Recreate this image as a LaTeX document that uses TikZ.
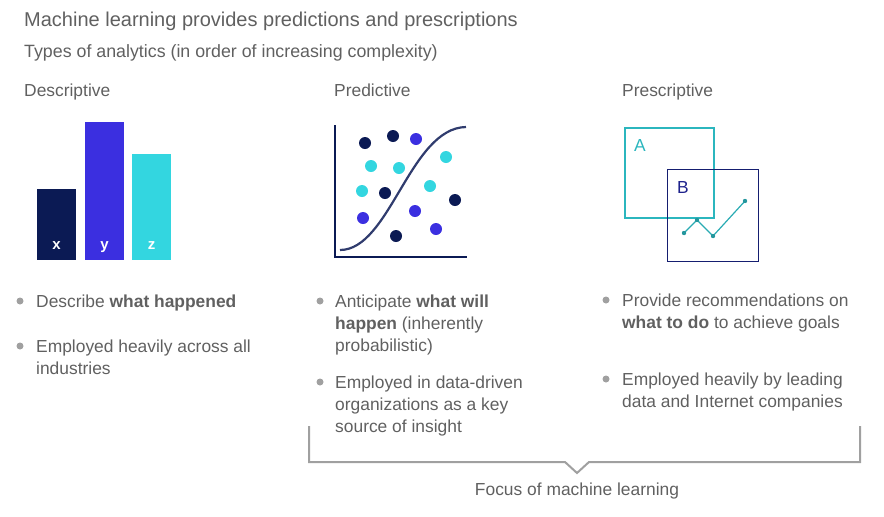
\documentclass[tikz,border=0pt]{standalone}
\usepackage{fontspec}
\setmainfont{Liberation Sans}
\definecolor{navy}{HTML}{0B1A54}
\definecolor{purp}{HTML}{3B2FE0}
\definecolor{cyn}{HTML}{33D6E0}
\definecolor{txt}{HTML}{606060}
\definecolor{brk}{HTML}{A0A0A0}
\begin{document}
\begin{tikzpicture}[x=1pt,y=-1pt,
  t/.style={anchor=base west,inner sep=0,text=txt,font=\fontsize{17.4}{17.4}\selectfont},
  bl/.style={fill=brk,draw=none,circle,inner sep=0,minimum size=7pt},
  dn/.style={circle,fill=navy,inner sep=0,minimum size=12pt},
  dp/.style={circle,fill=purp,inner sep=0,minimum size=12pt},
  dc/.style={circle,fill=cyn,inner sep=0,minimum size=12pt},
  bar/.style={white,font=\bfseries\fontsize{15}{15}\selectfont,anchor=base}]
\useasboundingbox (0,0) rectangle (884,517);
\node[t,font=\fontsize{20}{20}\selectfont] (title) at (24,26) {Machine learning provides predictions and prescriptions};
\node[t,font=\fontsize{17.8}{17.8}\selectfont] (sub) at (24,57) {Types of analytics (in order of increasing complexity)};
\node[t] (h1) at (24,96) {Descriptive};
\node[t] (h2) at (334,96) {Predictive};
\node[t] (h3) at (622,96) {Prescriptive};
% bars
\fill[navy] (37,189) rectangle (76,260);
\fill[purp] (85,122) rectangle (124,260);
\fill[cyn] (132,154) rectangle (171,260);
\node[bar] (bx) at (56.5,249) {x};
\node[bar] (by) at (104.5,249) {y};
\node[bar] (bz) at (151.5,249) {z};
% scatter
\draw[navy,line width=2.5pt] (335,125) -- (335,257) -- (467,257);
\draw[navy!85!white,line width=2.2pt] (340,250) .. controls (390,250) and (410,128) .. (466,127);
\foreach \p [count=\i] in {(365,143),(393,136),(385,193),(455,200),(396,236)} \node[dn] (n\i) at \p {};
\foreach \p [count=\i] in {(416,139),(363,218),(415,211),(436,229)} \node[dp] (p\i) at \p {};
\foreach \p [count=\i] in {(371,166),(399,168),(446,157),(362,191),(430,186)} \node[dc] (c\i) at \p {};
% prescriptive
\draw[cyn!85!black,line width=1.5pt] (625,128) rectangle (714,218);
\draw[navy!80!purp,line width=1pt] (667,169) rectangle (758,261);
\node[t,text=cyn!85!black] (la) at (634,151) {A};
\node[t,text=navy!60!purp] (lb) at (677,193) {B};
\draw[cyn!80!black,line width=1.2pt] (684,233) -- (697,220) -- (713,236) -- (745,201);
\foreach \p in {(684,233),(697,220),(713,236),(745,201)} \fill[cyn!70!black] \p circle (2.2);
% bullets col1
\node[bl] (b1) at (20,301) {};
\node[t] (l1) at (36,307) {Describe \textbf{what happened}};
\node[bl] (b2) at (20,346) {};
\node[t] (l2) at (36,352) {Employed heavily across all};
\node[t] (l3) at (36,374) {industries};
% col2
\node[bl] (b3) at (320,301) {};
\node[t] (m1) at (335,307) {Anticipate \textbf{what will}};
\node[t] (m2) at (335,329) {\textbf{happen} (inherently};
\node[t] (m3) at (335,351) {probabilistic)};
\node[bl] (b4) at (320,382) {};
\node[t] (m4) at (335,388) {Employed in data-driven};
\node[t] (m5) at (335,410) {organizations as a key};
\node[t] (m6) at (335,432) {source of insight};
% col3
\node[bl] (b5) at (606,300) {};
\node[t] (r1) at (622,306) {Provide recommendations on};
\node[t] (r2) at (622,328) {\textbf{what to do} to achieve goals};
\node[bl] (b6) at (606,379) {};
\node[t] (r3) at (622,385) {Employed heavily by leading};
\node[t] (r4) at (622,407) {data and Internet companies};
% bracket
\draw[brk,line width=2pt] (309,426) -- (309,462) -- (565,462) -- (577,473) -- (589,462) -- (860,462) -- (860,426);
\node[t,anchor=base] (foc) at (577,495) {Focus of machine learning};
\end{tikzpicture}
\end{document}
